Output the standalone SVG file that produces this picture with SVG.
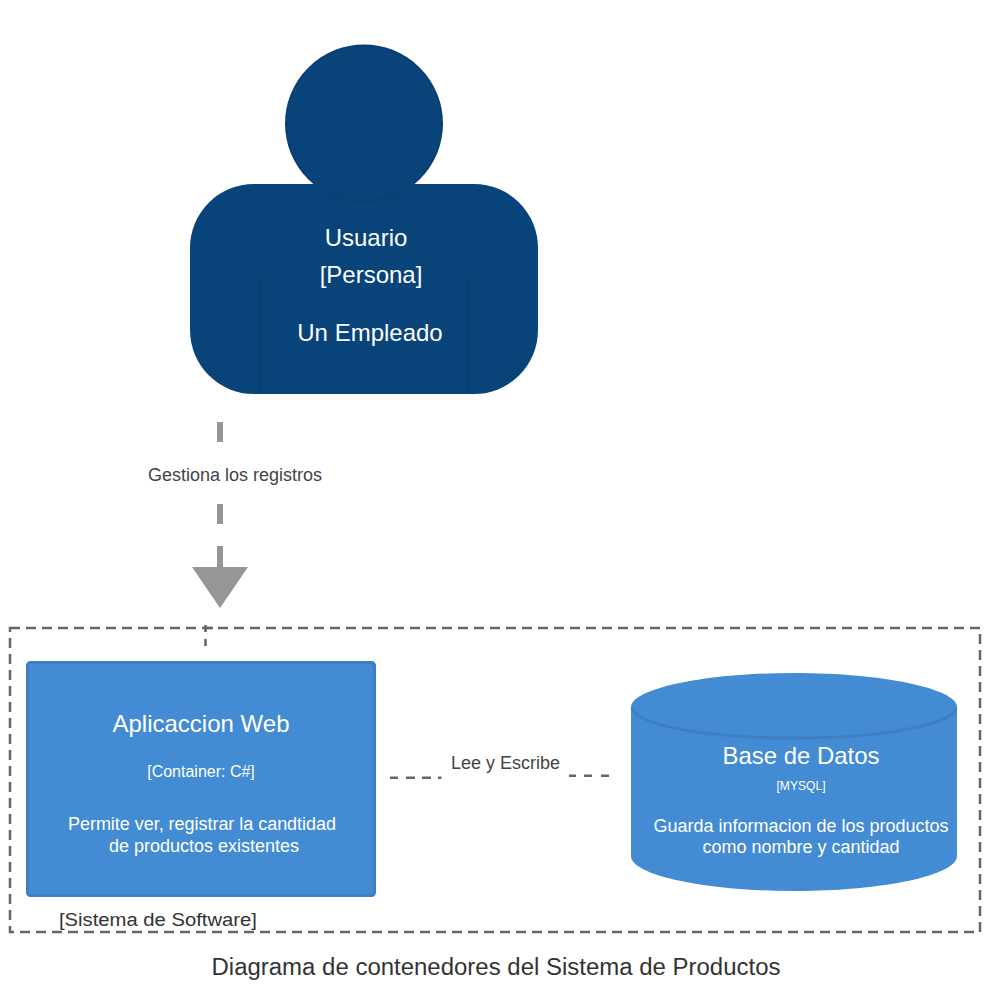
<svg xmlns="http://www.w3.org/2000/svg" width="1000" height="1000" viewBox="0 0 1000 1000">
<style>
text{font-family:"Liberation Sans",Arial,sans-serif;text-anchor:middle}
.w{fill:#fff}
.d{fill:#444}
.b{fill:#438bd3}
.bs{stroke:#3d7fc1;stroke-width:3}
.p{fill:#08437a}
.bd{fill:none;stroke:#666;stroke-width:2.500;stroke-dasharray:10 6}
.lk{fill:none;stroke:#666;stroke-width:2.500}
</style>
<g id="connectors">
<path d="M220 422V442M220 504V524M220 546V568" fill="none" stroke="#969696" stroke-width="6"/>
<polygon points="192,567 248,567 220,608" fill="#969696"/>
<path d="M205.500 625V632M205.500 639V646M205.500 628H213" class="lk"/>
<path d="M390 777.700H398M406 777.700H415M422 777.700H431M438 777.700H441.500" class="lk"/>
<path d="M569 775.700H576M584 775.700H592M601 775.700H609" class="lk"/>
<text x="235" y="481" font-size="18" class="d">Gestiona los registros</text>
<text x="488" y="769" font-size="18" class="d" textLength="109" lengthAdjust="spacingAndGlyphs" style="text-anchor:start" dx="-37">Lee y Escribe</text>
</g>
<g id="boundary">
<rect x="10" y="628" width="970" height="304" class="bd"/>
<text x="158" y="926" font-size="18" fill="#333" textLength="198" lengthAdjust="spacingAndGlyphs">[Sistema de Software]</text>
</g>
<g id="usuario">
<rect x="190" y="184" width="348" height="210" rx="64" ry="64" class="p"/>
<path d="M260.500 278V392M467.500 278V392" fill="none" stroke="#0b3c6c" stroke-width="2"/>
<circle cx="364" cy="123.500" r="78" class="p" stroke="#0b3f72" stroke-width="2"/>
<text x="366" y="246" font-size="24" class="w">Usuario</text>
<text x="371" y="283" font-size="24" class="w">[Persona]</text>
<text x="370" y="341" font-size="24" class="w">Un Empleado</text>
</g>
<g id="aplicacion">
<rect x="27.500" y="662.500" width="347" height="233" rx="3" class="b bs"/>
<text x="201" y="732" font-size="24" class="w">Aplicaccion Web</text>
<text x="201" y="777" font-size="16" class="w">[Container: C#]</text>
<text x="202" y="830" font-size="18" class="w" textLength="268" lengthAdjust="spacing">Permite ver, registrar la candtidad</text>
<text x="204" y="852" font-size="18" class="w" textLength="190" lengthAdjust="spacing">de productos existentes</text>
</g>
<g id="base-datos">
<path d="M631 707C631 689 704 673 794 673C884 673 957 689 957 707V856C957 875 884 891 794 891C704 891 631 875 631 856Z" class="b"/>
<path d="M632 708C636 725 706 738 794 738C882 738 952 725 956 708" fill="none" stroke="#3d7fc1" stroke-width="3"/>
<text x="801" y="764" font-size="24" class="w" textLength="157" lengthAdjust="spacingAndGlyphs">Base de Datos</text>
<text x="801" y="790" font-size="12.500" class="w" textLength="49" lengthAdjust="spacingAndGlyphs">[MYSQL]</text>
<text x="801" y="832" font-size="18" class="w" textLength="295" lengthAdjust="spacingAndGlyphs">Guarda informacion de los productos</text>
<text x="801" y="853" font-size="18" class="w" textLength="197" lengthAdjust="spacingAndGlyphs">como nombre y cantidad</text>
</g>
<text id="titulo" x="496" y="975" font-size="23" fill="#333" textLength="569" lengthAdjust="spacingAndGlyphs">Diagrama de contenedores del Sistema de Productos</text>
</svg>
